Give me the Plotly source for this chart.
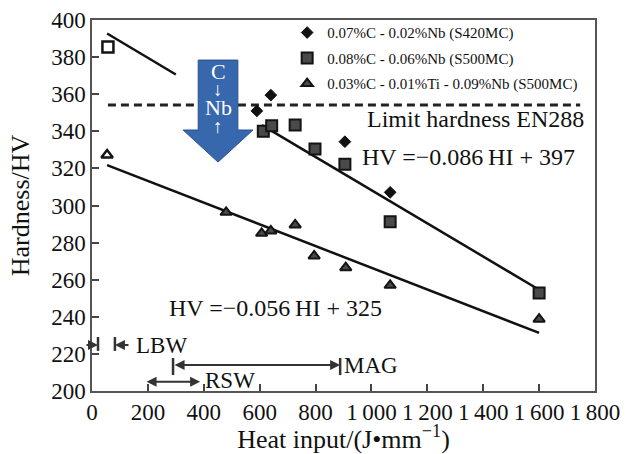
import plotly.graph_objects as go

# ---------------- data ----------------
s420_hi = [590, 640, 905, 1067]
s420_hv = [351, 359.5, 334.4, 307.1]

s500_hi = [57, 613, 643, 727, 798, 905, 1067, 1600]
s500_hv = [385.5, 340, 343, 343.4, 330.5, 322.2, 291.3, 252.8]

s500ti_hi = [54, 480, 607, 640, 727, 795, 908, 1067, 1600]
s500ti_hv = [327.2, 296.3, 285, 286.3, 289.5, 272.8, 266.5, 257, 238.7]

# regression lines (upper one drawn in two pieces)
fit_up_hi = [54, 300, None, 608, 1600]
fit_up_hv = [392.7, 370.6, None, 343.3, 254.6]
fit_lo_hi = [54, 1600]
fit_lo_hv = [321.8, 231.3]

limit_hv = 354.2
limit_hi = [57, 1747]

x_ticks = [0, 200, 400, 600, 800, 1000, 1200, 1400, 1600, 1800]
x_ticktext = ["0", "200", "400", "600", "800", "1\u2009000", "1\u2009200",
              "1\u2009400", "1\u2009600", "1\u2009800"]

legend_names = ["0.07%C - 0.02%Nb (S420MC)",
                "0.08%C - 0.06%Nb (S500MC)",
                "0.03%C - 0.01%Ti - 0.09%Nb (S500MC)"]

FONT = "Liberation Serif"
FILL = "#4a4a4a"
EDGE = "#141414"

fig = go.Figure()

fig.add_trace(go.Scatter(x=fit_up_hi, y=fit_up_hv, mode="lines",
                         line=dict(color="#111", width=2.5), showlegend=False,
                         connectgaps=False))
fig.add_trace(go.Scatter(x=fit_lo_hi, y=fit_lo_hv, mode="lines",
                         line=dict(color="#111", width=2.5), showlegend=False))

fig.add_trace(go.Scatter(x=s420_hi, y=s420_hv, mode="markers", name=legend_names[0],
                         legendgroup="a",
                         marker=dict(symbol="diamond", size=9, color="#111",
                                     line=dict(color="#111", width=1))))
fig.add_trace(go.Scatter(x=s500_hi[1:], y=s500_hv[1:], mode="markers", name=legend_names[1],
                         legendgroup="b",
                         marker=dict(symbol="square", size=11, color=FILL,
                                     line=dict(color=EDGE, width=2))))
fig.add_trace(go.Scatter(x=s500_hi[:1], y=s500_hv[:1], mode="markers", showlegend=False,
                         marker=dict(symbol="square", size=11, color="white",
                                     line=dict(color=EDGE, width=2.5))))
fig.add_trace(go.Scatter(x=s500ti_hi[1:], y=s500ti_hv[1:], mode="markers", name=legend_names[2],
                         legendgroup="c",
                         marker=dict(symbol="triangle-up", size=10, color=FILL,
                                     line=dict(color=EDGE, width=2))))
fig.add_trace(go.Scatter(x=s500ti_hi[:1], y=s500ti_hv[:1], mode="markers", showlegend=False,
                         marker=dict(symbol="triangle-up", size=10, color="white",
                                     line=dict(color=EDGE, width=2.5))))

shapes = []
# limit hardness dashed line
shapes.append(dict(type="line", xref="x", yref="y", x0=limit_hi[0], x1=limit_hi[1],
                   y0=limit_hv, y1=limit_hv, layer="below",
                   line=dict(color="#222", width=3, dash="8px,5px")))
# blue block arrow
shapes.append(dict(type="path", xref="x", yref="y", layer="above",
                   path="M 380 378.4 L 522 378.4 L 522 340.7 L 576 340.7 L 451 323.4 "
                        "L 326 340.7 L 380 340.7 Z",
                   fillcolor="#3767ad", line=dict(color="#2a5190", width=1)))
# range bars
for xb, y0, y1 in [(21.5, 221.6, 229.1), (82, 221.6, 229.1),
                   (290, 208.6, 217.8), (888, 208.6, 217.8)]:
    shapes.append(dict(type="line", xref="x", yref="y", x0=xb, x1=xb, y0=y0, y1=y1,
                       line=dict(color="#333", width=2.5)))

annotations = []
tf = dict(family=FONT, color="#111")
annotations.append(dict(x=1374, y=346.6, text="Limit hardness EN288", showarrow=False,
                        font=dict(size=24, **tf)))
annotations.append(dict(x=1347, y=326, text="HV =\u22120.086\u2009HI + 397", showarrow=False,
                        font=dict(size=24, **tf)))
annotations.append(dict(x=655, y=244.7, text="HV =\u22120.056\u2009HI + 325", showarrow=False,
                        font=dict(size=24, **tf)))
# arrow text
for txt, yy, sz in [("C", 372, 22), ("\u2193", 362.8, 19), ("Nb", 352.6, 22), ("\u2191", 342.6, 19)]:
    annotations.append(dict(x=451, y=yy, text=txt, showarrow=False,
                            font=dict(family=FONT, size=sz, color="white")))
# range arrows
arr = dict(showarrow=True, arrowhead=2, arrowsize=1, arrowwidth=2, arrowcolor="#333",
           axref="x", ayref="y", text="")
annotations.append(dict(x=21.5, y=224.8, ax=-25, ay=224.8, **arr))
annotations.append(dict(x=82, y=224.8, ax=136, ay=224.8, **arr))
annotations.append(dict(x=888, y=214, ax=290, ay=214, arrowside="end+start", **arr))
annotations.append(dict(x=387, y=205, ax=190, ay=205, arrowside="end+start", **arr))
# range labels
for txt, xx, yy in [("LBW", 152, 224.8), ("MAG", 894, 214), ("RSW", 398, 205.4)]:
    annotations.append(dict(x=xx, y=yy, text=txt, showarrow=False, xanchor="left",
                            font=dict(size=23, **tf)))

axis_common = dict(showgrid=False, zeroline=False, showline=True, mirror=True,
                   linecolor="#555", linewidth=1.5, ticks="inside", ticklen=7,
                   tickwidth=1.5, tickcolor="#444", automargin=False,
                   tickfont=dict(family=FONT, size=23, color="#111"))

fig.update_layout(
    width=632, height=454,
    margin=dict(l=92, r=37, t=20, b=63),
    paper_bgcolor="white", plot_bgcolor="white",
    shapes=shapes, annotations=annotations,
    xaxis=dict(range=[0, 1800], tickvals=x_ticks, ticktext=x_ticktext,
               title=dict(text="Heat input/(J\u2022mm<sup>\u22121</sup>)",
                          font=dict(family=FONT, size=26, color="#111"), standoff=6),
               **axis_common),
    yaxis=dict(range=[200, 400], dtick=20,
               title=dict(text="Hardness/HV", font=dict(family=FONT, size=26, color="#111"),
                          standoff=14),
               **axis_common),
    legend=dict(x=0.388, y=1.01, xanchor="left", yanchor="top", bgcolor="rgba(0,0,0,0)",
                font=dict(family=FONT, size=15, color="#111"), tracegroupgap=3,
                itemwidth=30),
    showlegend=True,
)

fig.write_html("out.html", post_script="document.body.style.margin='0px';",
               config={"displayModeBar": False})
